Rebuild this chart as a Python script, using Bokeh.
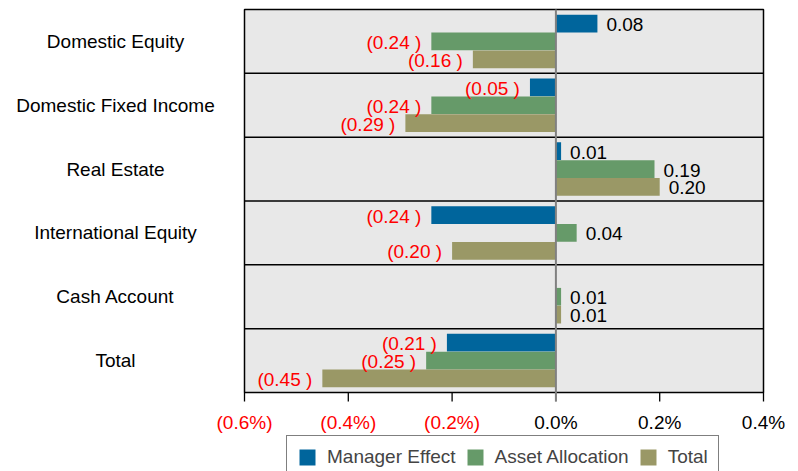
from bokeh.plotting import figure
from bokeh.models import ColumnDataSource, Legend, LegendItem, Range1d
from bokeh.core.properties import value
from bokeh.embed import file_html
from bokeh.resources import INLINE

# ---------------- data ----------------
categories = ["Domestic Equity", "Domestic Fixed Income", "Real Estate",
              "International Equity", "Cash Account", "Total"]
manager_effect = [0.08, -0.05, 0.01, -0.24, 0.0, -0.21]
asset_allocation = [-0.24, -0.24, 0.19, 0.04, 0.01, -0.25]
total_effect = [-0.16, -0.29, 0.20, -0.20, 0.01, -0.45]
series_names = ["Manager Effect", "Asset Allocation", "Total"]
series_colors = ["#00659C", "#669A69", "#9A9866"]
x_ticks = [-0.6, -0.4, -0.2, 0.0, 0.2, 0.4]
x_tick_labels = ["(0.6%)", "(0.4%)", "(0.2%)", "0.0%", "0.2%", "0.4%"]

# ---------------- layout (pixels) ----------------
W, H = 798, 471
FRAME_L, FRAME_R, FRAME_T, FRAME_B = 244, 763, 9, 392
FONT = value("Liberation Sans")
FS = "19px"

n = len(categories)
xmin, xmax = x_ticks[0], x_ticks[-1]
ppx = (FRAME_R - FRAME_L) / (xmax - xmin)      # pixels per x unit
ppy = (FRAME_B - FRAME_T) / n                  # pixels per y unit

p = figure(width=W, height=H, output_backend="svg", toolbar_location=None,
           x_axis_location=None, y_axis_location=None,
           x_range=Range1d(xmin - FRAME_L / ppx, xmax + (W - FRAME_R) / ppx),
           y_range=Range1d(-(H - FRAME_B) / ppy, n + FRAME_T / ppy),
           min_border=0, min_border_left=0, min_border_right=0,
           min_border_top=0, min_border_bottom=0,
           outline_line_color=None, background_fill_color="white",
           border_fill_color="white")
p.xgrid.visible = False
p.ygrid.visible = False

# plot area background + frame
p.quad(left=[xmin], right=[xmax], bottom=[0], top=[n],
       fill_color="#E8E8E8", line_color="black", line_width=1.5)
# row separators
seps = list(range(1, n))
p.segment(x0=[xmin] * len(seps), x1=[xmax] * len(seps), y0=seps, y1=seps,
          line_color="black", line_width=1.5)

centers = [n - i - 0.5 for i in range(n)]
offsets = [0.28, 0.0, -0.28]
bar_h = 0.277

series_values = [manager_effect, asset_allocation, total_effect]
renderers = []
pos = dict(x=[], y=[], t=[])
neg = dict(x=[], y=[], t=[])
for vals, off, col in zip(series_values, offsets, series_colors):
    ys = [c + off for c in centers]
    src = ColumnDataSource(dict(y=ys, v=vals))
    r = p.hbar(y="y", height=bar_h, left=0, right="v", source=src,
               fill_color=col, line_color=None)
    renderers.append(r)
    for v, y in zip(vals, ys):
        if v > 0:
            pos["x"].append(v); pos["y"].append(y); pos["t"].append("%.2f" % v)
        elif v < 0:
            neg["x"].append(v); neg["y"].append(y); neg["t"].append("(%.2f )" % abs(v))

# zero line and tick marks
tick_len = 9 / ppy
p.segment(x0=[0], x1=[0], y0=[-tick_len], y1=[n], line_color="#808080", line_width=2)
tick_colors = ["#808080" if t == 0 else "black" for t in x_ticks]
p.segment(x0=x_ticks, x1=x_ticks, y0=[0] * len(x_ticks), y1=[-tick_len] * len(x_ticks),
          line_color=tick_colors, line_width=1.3)

# value labels
p.text(x="x", y="y", text="t", source=ColumnDataSource(pos), x_offset=9, y_offset=1,
       text_align="left", text_baseline="middle", text_font=FONT,
       text_font_size=FS, text_color="black")
p.text(x="x", y="y", text="t", source=ColumnDataSource(neg), x_offset=-10, y_offset=1,
       text_align="right", text_baseline="middle", text_font=FONT,
       text_font_size=FS, text_color="#FF0000")

# category labels, centred in the left margin
cat_x = xmin - 129 / ppx
p.text(x=[cat_x] * n, y=centers, text=categories, text_align="center",
       text_baseline="middle", text_font=FONT, text_font_size=FS, text_color="black")

# x tick labels (negatives in red)
lab_colors = ["#FF0000" if t < 0 else "black" for t in x_ticks]
p.text(x=x_ticks, y=[-29.5 / ppy] * len(x_ticks), text=x_tick_labels,
       text_color=lab_colors, text_align="center", text_baseline="middle",
       text_font=FONT, text_font_size=FS)

legend = Legend(items=[LegendItem(label=nm, renderers=[r]) for nm, r in zip(series_names, renderers)],
                orientation="horizontal", location=(286, -8),
                label_text_font="Liberation Sans", label_text_font_size=FS,
                glyph_width=20, glyph_height=20, label_standoff=10, spacing=9,
                padding=10, margin=0, border_line_color="black", border_line_width=1.5,
                background_fill_color="white", background_fill_alpha=1.0)
p.add_layout(legend, "center")

open("out.html", "w").write(file_html(p, INLINE))
